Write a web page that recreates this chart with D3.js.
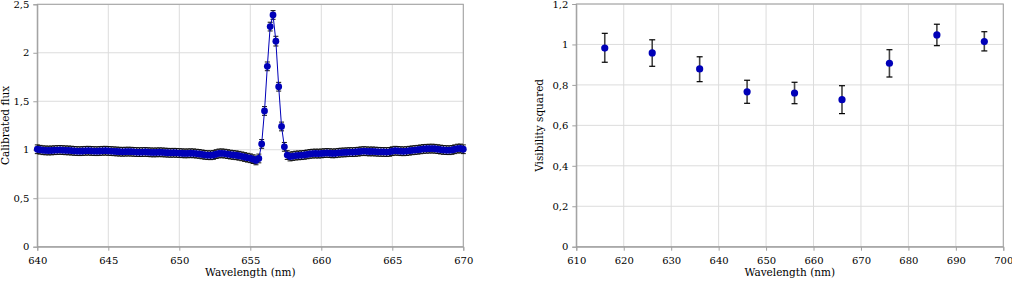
<!DOCTYPE html>
<html>
<head>
<meta charset="utf-8">
<script src="https://cdn.jsdelivr.net/npm/d3@7"></script>
<style>
  body { margin: 0; background: #fff; }
  svg { display: block; font-family: "DejaVu Serif", serif; }
</style>
</head>
<body>
<svg id="chart" width="1012" height="285"></svg>
<script>
// left panel: calibrated flux, one point every 0.2 nm from 640 to 670
const fluxStart = 640;
const fluxStep = 0.2;
const fluxValues = [
  1.005, 1.000, 0.995, 0.993, 0.992, 0.993, 0.995, 0.997, 0.998, 0.996,
  0.994, 0.993, 0.991, 0.988, 0.986, 0.985, 0.987, 0.989, 0.990, 0.988,
  0.986, 0.985, 0.987, 0.989, 0.990, 0.988,
  0.986, 0.984, 0.982, 0.980, 0.979, 0.980, 0.981, 0.980, 0.978, 0.976,
  0.975, 0.976, 0.977, 0.975, 0.973, 0.972, 0.973, 0.974, 0.973, 0.971,
  0.969, 0.968, 0.969, 0.968, 0.966,
  0.964, 0.962, 0.963, 0.964, 0.963, 0.960, 0.957, 0.952, 0.947, 0.944,
  0.943, 0.946, 0.955, 0.962, 0.963, 0.960, 0.955, 0.950, 0.946, 0.943,
  0.938, 0.932, 0.925, 0.918, 0.912, 0.903, 0.890,
  0.910, 1.060, 1.400, 1.860, 2.270, 2.390, 2.120, 1.650, 1.240, 1.030,
  0.945, 0.930, 0.935, 0.940, 0.942, 0.944, 0.947, 0.952, 0.957, 0.960,
  0.961, 0.960, 0.962,
  0.965, 0.967, 0.965, 0.962, 0.964, 0.968, 0.971, 0.972, 0.974, 0.976,
  0.975, 0.977, 0.980, 0.984, 0.986, 0.984, 0.982, 0.983, 0.981, 0.979,
  0.978, 0.977, 0.976, 0.978, 0.985,
  0.990, 0.988, 0.985, 0.984, 0.986, 0.990, 0.994, 0.997, 1.000, 1.004,
  1.008, 1.010, 1.011, 1.012, 1.010, 1.006, 1.002, 0.998, 0.996, 0.995,
  0.998, 1.005, 1.012, 1.013, 1.005
];
const fluxErr = 0.045;
// error bars on the H-alpha line
const peakErr = [0.045, 0.045, 0.045, 0.045, 0.045, 0.05, 0.045, 0.045, 0.045, 0.045];
const peakFirst = 79; // index of 655.8 nm

// right panel: visibility squared
const visWave = [616, 626, 636, 646, 656, 666, 676, 686, 696];
const visValue = [0.982, 0.958, 0.879, 0.766, 0.760, 0.727, 0.907, 1.047, 1.014];
const visLow = [0.912, 0.892, 0.816, 0.709, 0.707, 0.658, 0.839, 0.994, 0.968];
const visHigh = [1.055, 1.023, 0.939, 0.823, 0.813, 0.796, 0.974, 1.100, 1.063];

const fluxTicksX = [640, 645, 650, 655, 660, 665, 670];
const fluxTicksY = [0, 0.5, 1, 1.5, 2, 2.5];
const visTicksX = [610, 620, 630, 640, 650, 660, 670, 680, 690, 700];
const visTicksY = [0, 0.2, 0.4, 0.6, 0.8, 1, 1.2];

const blue = "#0000b8";
const fr = d3.formatLocale({ decimal: ",", thousands: " ", grouping: [3], currency: ["", ""] });
const fmt = v => fr.format("~g")(v);

const svg = d3.select("#chart");

const fluxData = fluxValues.map((v, i) => {
  const k = i - peakFirst;
  return {
    x: fluxStart + i * fluxStep,
    y: v,
    e: (k >= 0 && k < peakErr.length) ? peakErr[k] : fluxErr
  };
});
const visData = visWave.map((w, i) => ({ x: w, y: visValue[i], lo: visLow[i], hi: visHigh[i] }));

function panel(opts) {
  const x = d3.scaleLinear().domain(opts.xDomain).range([opts.left, opts.right]);
  const y = d3.scaleLinear().domain(opts.yDomain).range([opts.bottom, opts.top]);
  const g = svg.append("g");

  // grid
  g.append("g").selectAll("line").data(opts.xTicks).join("line")
    .attr("x1", d => x(d)).attr("x2", d => x(d))
    .attr("y1", opts.top).attr("y2", opts.bottom)
    .attr("stroke", "#dcdcdc");
  g.append("g").selectAll("line").data(opts.yTicks).join("line")
    .attr("x1", opts.left).attr("x2", opts.right)
    .attr("y1", d => y(d)).attr("y2", d => y(d))
    .attr("stroke", "#dcdcdc");

  // frame
  g.append("rect")
    .attr("x", opts.left).attr("y", opts.top)
    .attr("width", opts.right - opts.left).attr("height", opts.bottom - opts.top)
    .attr("fill", "none").attr("stroke", "#a0a0a0");

  const xAxis = g.append("g")
    .attr("transform", `translate(0,${opts.bottom})`)
    .call(d3.axisBottom(x).tickValues(opts.xTicks).tickFormat(fmt).tickSize(4).tickPadding(6));
  const yAxis = g.append("g")
    .attr("transform", `translate(${opts.left},0)`)
    .call(d3.axisLeft(y).tickValues(opts.yTicks).tickFormat(fmt).tickSize(4).tickPadding(4));
  [xAxis, yAxis].forEach(a => {
    a.select(".domain").attr("stroke", "#a0a0a0");
    a.selectAll(".tick line").attr("stroke", "#a0a0a0");
    a.selectAll("text").attr("fill", "#000").attr("font-size", 10)
      .attr("font-family", "DejaVu Serif, serif");
  });

  g.append("text")
    .attr("x", (opts.left + opts.right) / 2).attr("y", opts.bottom + 29)
    .attr("text-anchor", "middle").attr("font-size", 10.5)
    .text(opts.xLabel);
  g.append("text")
    .attr("transform", `translate(${opts.yLabelX},${(opts.top + opts.bottom) / 2}) rotate(-90)`)
    .attr("text-anchor", "middle").attr("font-size", 10.5)
    .text(opts.yLabel);

  return { g, x, y };
}

// left panel
const L = panel({
  left: 37.3, right: 463.3, top: 4.3, bottom: 246.7,
  xDomain: [640, 670], yDomain: [0, 2.5],
  xTicks: fluxTicksX, yTicks: fluxTicksY,
  xLabel: "Wavelength (nm)", yLabel: "Calibrated flux", yLabelX: 9
});

const errL = L.g.append("g").attr("stroke", "#111").attr("stroke-width", 1);
fluxData.forEach(d => {
  const cx = L.x(d.x), y1 = L.y(d.y + d.e), y2 = L.y(d.y - d.e);
  errL.append("line").attr("x1", cx).attr("x2", cx).attr("y1", y1).attr("y2", y2);
  errL.append("line").attr("x1", cx - 2.5).attr("x2", cx + 2.5).attr("y1", y1).attr("y2", y1);
  errL.append("line").attr("x1", cx - 2.5).attr("x2", cx + 2.5).attr("y1", y2).attr("y2", y2);
});

L.g.append("path")
  .datum(fluxData)
  .attr("fill", "none").attr("stroke", blue).attr("stroke-width", 1)
  .attr("d", d3.line().x(d => L.x(d.x)).y(d => L.y(d.y)));

L.g.append("g").selectAll("circle").data(fluxData).join("circle")
  .attr("cx", d => L.x(d.x)).attr("cy", d => L.y(d.y))
  .attr("r", 3.4).attr("fill", blue);

// right panel
const R = panel({
  left: 576.3, right: 1003.3, top: 4, bottom: 246.7,
  xDomain: [610, 700], yDomain: [0, 1.2],
  xTicks: visTicksX, yTicks: visTicksY,
  xLabel: "Wavelength (nm)", yLabel: "Visibility squared", yLabelX: 543
});

const errR = R.g.append("g");
visData.forEach(d => {
  const cx = R.x(d.x), y1 = R.y(d.hi), y2 = R.y(d.lo);
  errR.append("line").attr("x1", cx).attr("x2", cx).attr("y1", y1).attr("y2", y2)
    .attr("stroke", "#444").attr("stroke-width", 1.6);
  errR.append("line").attr("x1", cx - 3).attr("x2", cx + 3).attr("y1", y1).attr("y2", y1)
    .attr("stroke", "#000").attr("stroke-width", 1.2);
  errR.append("line").attr("x1", cx - 3).attr("x2", cx + 3).attr("y1", y2).attr("y2", y2)
    .attr("stroke", "#000").attr("stroke-width", 1.2);
});

R.g.append("g").selectAll("circle").data(visData).join("circle")
  .attr("cx", d => R.x(d.x)).attr("cy", d => R.y(d.y))
  .attr("r", 3.6).attr("fill", blue);
</script>
</body>
</html>
